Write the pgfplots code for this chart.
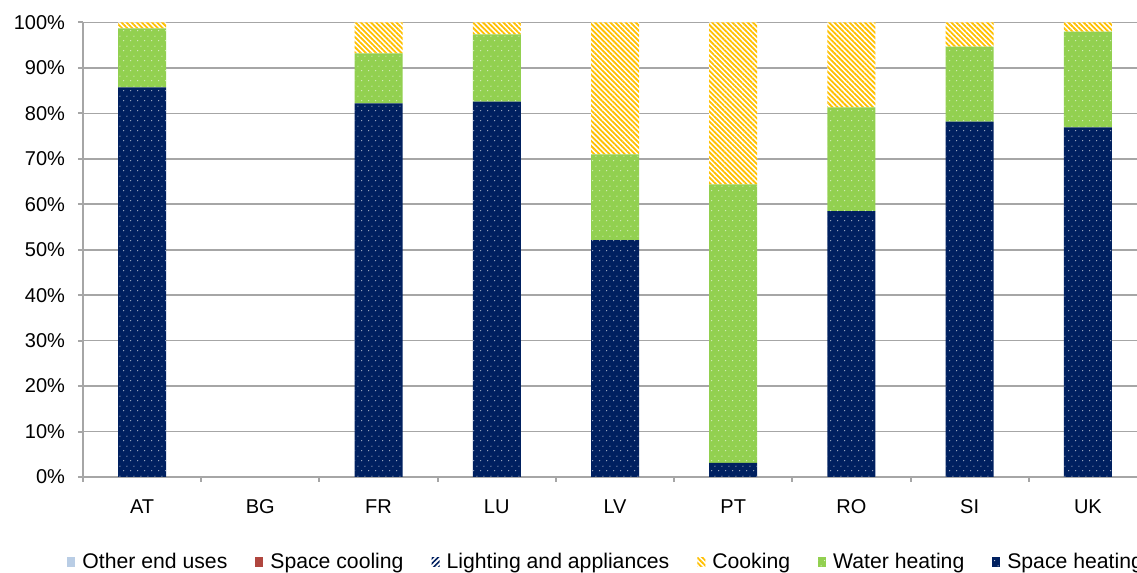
\documentclass[border=0pt]{standalone}
\usepackage{pgfplots}
\pgfplotsset{compat=1.18}
\usepackage{fontspec}
\setmainfont{Liberation Sans}
\usetikzlibrary{patterns.meta}
\definecolor{navy}{HTML}{002060}
\definecolor{grn}{HTML}{92D050}
\definecolor{ylw}{HTML}{FFC000}
\definecolor{lblue}{HTML}{B9CDE5}
\definecolor{cred}{HTML}{B0463F}
\definecolor{gridc}{HTML}{A6A6A6}
\tikzdeclarepattern{
  name=sdots,
  type=uncolored,
  bounding box={(0pt,0pt) and (3.4pt,5pt)},
  tile size={(3.4pt,5pt)},
  code={
    \fill (0.85pt,1.25pt) circle (0.32pt);
    \fill (2.55pt,3.75pt) circle (0.32pt);
  }
}
\begin{document}
\begin{tikzpicture}
\useasboundingbox (-41.5pt,-48pt) rectangle (527pt,238.5pt);
\clip (-41.5pt,-48pt) rectangle (527pt,238.5pt);
\begin{axis}[
  at={(0,0)}, anchor=south west,
  scale only axis, width=532pt, height=227.25pt,
  ybar stacked, bar width=24pt,
  xmin=-0.5, xmax=8.5, ymin=0, ymax=100,
  axis lines*=left,
  axis line style={gridc, line width=1pt},
  xtick={0,...,8}, xticklabels={AT,BG,FR,LU,LV,PT,RO,SI,UK},
  minor xtick={-0.5,0.5,...,8.5},
  major x tick style={draw=none},
  minor x tick style={gridc, line width=1pt},
  minor tick length=2.5pt, major tick length=2.5pt,
  tick align=outside,
  ytick={0,10,...,100},
  yticklabels={0\%,10\%,20\%,30\%,40\%,50\%,60\%,70\%,80\%,90\%,100\%},
  major y tick style={gridc, line width=1pt},
  ymajorgrids, major grid style={gridc, line width=0.8pt},
  ticklabel style={font=\fontsize{10}{11}\selectfont, text=black},
  yticklabel style={xshift=-3pt},
  xticklabel style={yshift=-5pt, text height=7.3pt, text depth=0pt},
  legend style={at={(axis description cs:-0.015,-0.187)}, anchor=west,
    draw=none, fill=none, inner sep=0pt,
    font=\fontsize{10.6}{12}\selectfont,
    /tikz/every even column/.append style={column sep=12pt}},
  legend columns=6, legend cell align=left, reverse legend,
  legend image code/.code={\draw[#1,draw=none] (0pt,-2.3pt) rectangle (4pt,2.3pt); \path (5.5pt,0pt);},
]
\addplot[fill=navy, draw=none, postaction={pattern=sdots, pattern color=white!80!navy}]
  coordinates {(0,85.7) (1,0) (2,82.2) (3,82.6) (4,52.1) (5,3.1) (6,58.5) (7,78.2) (8,76.9)};
\addlegendentry{Space heating}
\addplot[fill=grn, draw=none, postaction={pattern=sdots, pattern color=white!80!grn}]
  coordinates {(0,13.0) (1,0) (2,11.0) (3,14.8) (4,18.9) (5,61.3) (6,22.8) (7,16.5) (8,21.1)};
\addlegendentry{Water heating}
\addplot[fill=white, draw=none, postaction={pattern={Lines[angle=-45,distance=1.8pt,line width=0.9pt]}, pattern color=ylw}]
  coordinates {(0,1.3) (1,0) (2,6.8) (3,2.6) (4,29.0) (5,35.6) (6,18.7) (7,5.3) (8,2.0)};
\addlegendentry{Cooking}
\addplot[fill=white, draw=none, postaction={pattern={Lines[angle=45,distance=1.8pt,line width=0.8pt]}, pattern color=navy}]
  coordinates {(0,0) (1,0) (2,0) (3,0) (4,0) (5,0) (6,0) (7,0) (8,0)};
\addlegendentry{Lighting and appliances}
\addplot[fill=cred, draw=none]
  coordinates {(0,0) (1,0) (2,0) (3,0) (4,0) (5,0) (6,0) (7,0) (8,0)};
\addlegendentry{Space cooling}
\addplot[fill=lblue, draw=none]
  coordinates {(0,0) (1,0) (2,0) (3,0) (4,0) (5,0) (6,0) (7,0) (8,0)};
\addlegendentry{Other end uses}
\end{axis}
\end{tikzpicture}
\end{document}
